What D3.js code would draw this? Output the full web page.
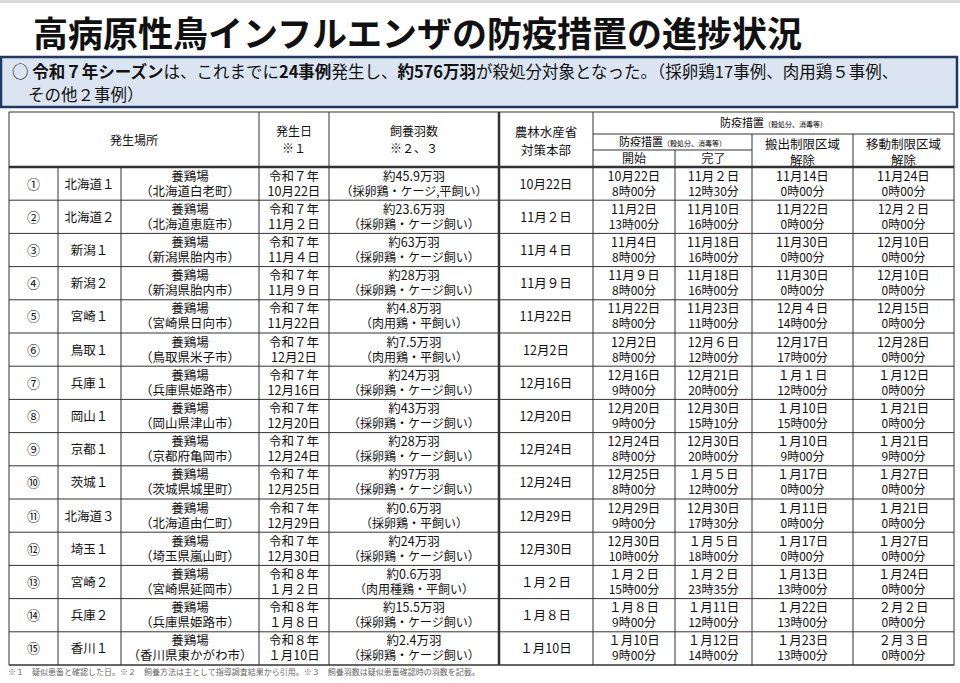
<!DOCTYPE html><html><head><meta charset="utf-8"><script src="https://cdn.jsdelivr.net/npm/d3@7"></script>
<style>body{margin:0;background:#fff}text{font-family:"Noto Sans CJK JP",sans-serif}</style></head><body><svg id="c" width="960" height="683"></svg>
<script>
const nums=["①","②","③","④","⑤","⑥","⑦","⑧","⑨","⑩","⑪","⑫","⑬","⑭","⑮"];
const prefs=["北海道１","北海道２","新潟１","新潟２","宮崎１","鳥取１","兵庫１","岡山１","京都１","茨城１","北海道３","埼玉１","宮崎２","兵庫２","香川１"];
const cities=["（北海道白老町）","（北海道恵庭市）","（新潟県胎内市）","（新潟県胎内市）","（宮崎県日向市）","（鳥取県米子市）","（兵庫県姫路市）","（岡山県津山市）","（京都府亀岡市）","（茨城県城里町）","（北海道由仁町）","（埼玉県嵐山町）","（宮崎県延岡市）","（兵庫県姫路市）","（香川県東かがわ市）"];
const eras=["令和７年","令和７年","令和７年","令和７年","令和７年","令和７年","令和７年","令和７年","令和７年","令和７年","令和７年","令和７年","令和８年","令和８年","令和８年"];
const occur=["10月22日","11月２日","11月４日","11月９日","11月22日","12月2日","12月16日","12月20日","12月24日","12月25日","12月29日","12月30日","１月２日","１月８日","１月10日"];
const counts=["約45.9万羽","約23.6万羽","約63万羽","約28万羽","約4.8万羽","約7.5万羽","約24万羽","約43万羽","約28万羽","約97万羽","約0.6万羽","約24万羽","約0.6万羽","約15.5万羽","約2.4万羽"];
const types=["（採卵鶏・ケージ,平飼い）","（採卵鶏・ケージ飼い）","（採卵鶏・ケージ飼い）","（採卵鶏・ケージ飼い）","（肉用鶏・平飼い）","（肉用鶏・平飼い）","（採卵鶏・ケージ飼い）","（採卵鶏・ケージ飼い）","（採卵鶏・ケージ飼い）","（採卵鶏・ケージ飼い）","（採卵鶏・平飼い）","（採卵鶏・ケージ飼い）","（肉用種鶏・平飼い）","（採卵鶏・ケージ飼い）","（採卵鶏・ケージ飼い）"];
const hq=["10月22日","11月２日","11月４日","11月９日","11月22日","12月2日","12月16日","12月20日","12月24日","12月24日","12月29日","12月30日","１月２日","１月８日","１月10日"];
const startD=["10月22日","11月2日","11月4日","11月９日","11月22日","12月2日","12月16日","12月20日","12月24日","12月25日","12月29日","12月30日","１月２日","１月８日","１月10日"];
const startT=["8時00分","13時00分","8時00分","8時00分","8時00分","8時00分","9時00分","9時00分","8時00分","8時00分","9時00分","10時00分","15時00分","9時00分","9時00分"];
const endD=["11月２日","11月10日","11月18日","11月18日","11月23日","12月６日","12月21日","12月30日","12月30日","１月５日","12月30日","１月５日","１月２日","１月11日","１月12日"];
const endT=["12時30分","16時00分","16時00分","16時00分","11時00分","12時00分","20時00分","15時10分","20時00分","12時00分","17時30分","18時00分","23時35分","12時00分","14時00分"];
const outD=["11月14日","11月22日","11月30日","11月30日","12月４日","12月17日","１月１日","１月10日","１月10日","１月17日","１月11日","１月17日","１月13日","１月22日","１月23日"];
const outT=["0時00分","0時00分","0時00分","0時00分","14時00分","17時00分","12時00分","15時00分","9時00分","0時00分","0時00分","0時00分","13時00分","13時00分","13時00分"];
const moveD=["11月24日","12月２日","12月10日","12月10日","12月15日","12月28日","１月12日","１月21日","１月21日","１月27日","１月21日","１月27日","１月24日","２月２日","２月３日"];
const moveT=["0時00分","0時00分","0時00分","0時00分","0時00分","0時00分","0時00分","0時00分","9時00分","0時00分","0時00分","0時00分","0時00分","0時00分","0時00分"];

const svg=d3.select("#c");
svg.append("rect").attr("x",0).attr("y",0).attr("width",960).attr("height",3).attr("fill","#d9d9d9");
svg.append("text").attr("x",33).attr("y",47).attr("font-size",35).attr("font-weight","bold").attr("fill","#111").text("高病原性鳥インフルエンザの防疫措置の進捗状況");
svg.append("rect").attr("x",1).attr("y",57).attr("width",956).attr("height",50).attr("fill","#dbe5f1").attr("stroke","#1f3864").attr("stroke-width",2.5);
const t1=svg.append("text").attr("x",12).attr("y",78).attr("font-size",16.5).attr("fill","#111");
[["○ ",0],["令和７年シーズン",1],["は、これまでに",0],["24事例",1],["発生し、",0],["約576万羽",1],["が殺処分対象となった。（採卵鶏17事例、肉用鶏５事例、",0]].forEach(([s,b])=>t1.append("tspan").attr("font-weight",b?"bold":"normal").text(s));
svg.append("text").attr("x",28).attr("y",101).attr("font-size",16.5).attr("fill","#111").text("その他２事例）");

const X=[9,58,121,259,329,499,593,675,752,853,954];
const tTop=112, hb=167, bot=665;
const y=d3.scaleLinear().domain([0,nums.length]).range([hb,bot]);
const g=svg.append("g");
const line=(x1,y1,x2,y2,w=1)=>g.append("line").attr("x1",x1).attr("y1",y1).attr("x2",x2).attr("y2",y2).attr("stroke","#333").attr("stroke-width",w);
const txt=(x,yy,s,fs=12.5,a="middle")=>g.append("text").attr("x",x).attr("y",yy).attr("font-size",fs).attr("text-anchor",a).attr("fill","#111").text(s);
line(X[0],tTop,X[10],tTop);
line(X[0],tTop,X[0],bot); line(X[10],tTop,X[10],bot);
[3,4].forEach(i=>line(X[i],tTop,X[i],bot));
line(X[5],tTop,X[5],bot,2.5); line(X[6],tTop,X[6],bot,1);
line(X[6],134,X[10],134); line(X[6],150,X[8],150);
line(X[7],150,X[7],bot); line(X[8],134,X[8],bot); line(X[9],134,X[9],bot);
line(X[1],hb,X[1],bot); line(X[2],hb,X[2],bot);
line(X[0],hb,X[10],hb,2.5);
txt((X[0]+X[3])/2,145,"発生場所",12);
txt((X[3]+X[4])/2,136,"発生日",12); txt((X[3]+X[4])/2,153,"※１",12);
txt((X[4]+X[5])/2,136,"飼養羽数",12); txt((X[4]+X[5])/2,153,"※２、３",12);
txt((X[5]+X[6])/2,137,"農林水産省",12.5); txt((X[5]+X[6])/2,155,"対策本部",12.5);
const h1=g.append("text").attr("x",(X[6]+X[10])/2).attr("y",127).attr("font-size",11).attr("text-anchor","middle");
h1.append("tspan").text("防疫措置"); h1.append("tspan").attr("font-size",7).text("（殺処分、消毒等）");
const h2=g.append("text").attr("x",(X[6]+X[8])/2).attr("y",146).attr("font-size",11).attr("text-anchor","middle");
h2.append("tspan").text("防疫措置"); h2.append("tspan").attr("font-size",7).text("（殺処分、消毒等）");
txt((X[6]+X[7])/2,163,"開始",12); txt((X[7]+X[8])/2,163,"完了",12);
txt((X[8]+X[9])/2,149,"搬出制限区域",12.5); txt((X[8]+X[9])/2,165,"解除",12.5);
txt((X[9]+X[10])/2,149,"移動制限区域",12.5); txt((X[9]+X[10])/2,165,"解除",12.5);
nums.forEach((n,i)=>{
  const y0=y(i),y1=y(i+1),m=(y0+y1)/2;
  line(X[0],y1,X[10],y1, i==nums.length-1?1.5:1);
  const l1=m-3, l2=m+12;
  txt((X[0]+X[1])/2,m+5,n,13);
  txt((X[1]+X[2])/2,m+5,prefs[i]);
  txt((X[2]+X[3])/2,l1,"養鶏場"); txt((X[2]+X[3])/2,l2,cities[i]);
  txt((X[3]+X[4])/2,l1,eras[i]); txt((X[3]+X[4])/2,l2,occur[i]);
  txt((X[4]+X[5])/2,l1,counts[i]); txt((X[4]+X[5])/2,l2,types[i],12);
  txt((X[5]+X[6])/2,m+5,hq[i]);
  txt((X[6]+X[7])/2,l1,startD[i]); txt((X[6]+X[7])/2,l2,startT[i],12);
  txt((X[7]+X[8])/2,l1,endD[i]); txt((X[7]+X[8])/2,l2,endT[i],12);
  txt((X[8]+X[9])/2,l1,outD[i]); txt((X[8]+X[9])/2,l2,outT[i],12);
  txt((X[9]+X[10])/2,l1,moveD[i]); txt((X[9]+X[10])/2,l2,moveT[i],12);
});
svg.append("text").attr("x",8).attr("y",675).attr("font-size",8).attr("fill","#666").text("※１　疑似患畜と確認した日。※２　飼養方法は主として指導調査結果から引用。※３　飼養羽数は疑似患畜確認時の羽数を記載。");
</script></body></html>
